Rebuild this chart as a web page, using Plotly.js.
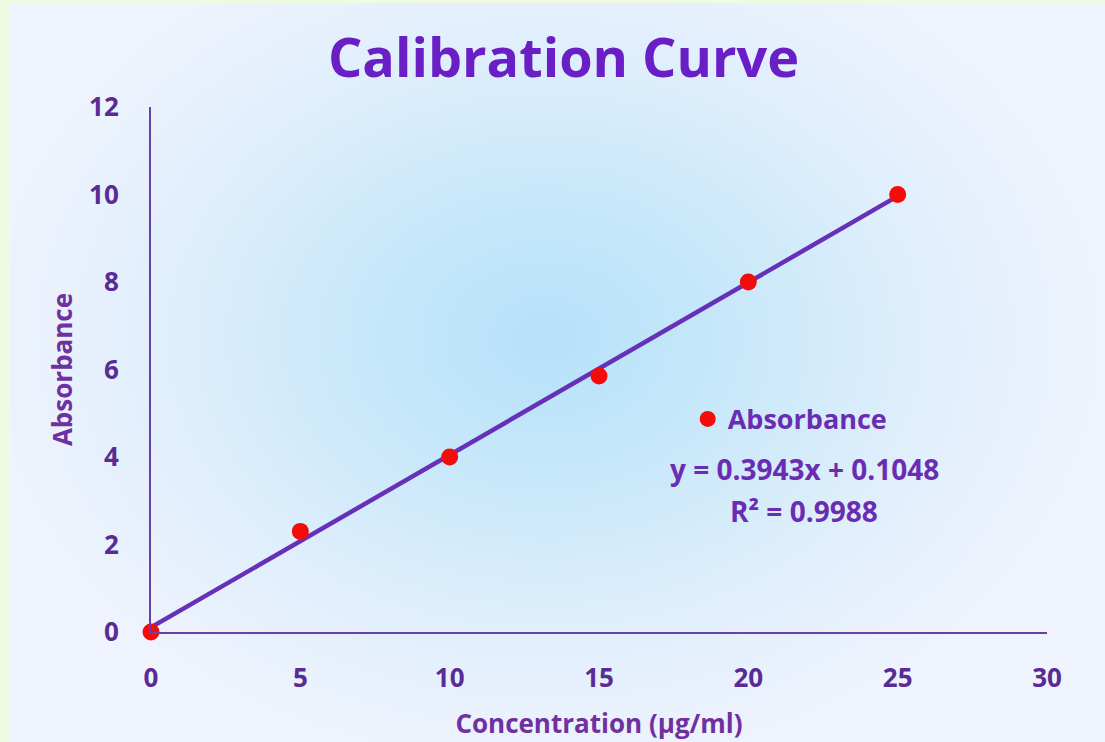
<!DOCTYPE html>
<html>
<head>
<meta charset="utf-8">
<script src="https://cdn.plot.ly/plotly-3.0.1.min.js"></script>
<style>
  html, body { margin:0; padding:0; width:1105px; height:742px; overflow:hidden; background:#eefbe1; }
  #panel { position:absolute; left:10px; top:3px; width:1095px; height:739px;
    background: radial-gradient(ellipse 560px 430px at 535px 335px, #b6e1f9 0%, #c9e8fa 35%, #e1effc 70%, #eef3fd 100%); }
  #chart { position:absolute; left:0; top:0; width:1105px; height:742px; }
</style>
</head>
<body>
<div id="panel"></div>
<div id="chart"></div>
<script>
// Data
const concentration = [0, 5, 10, 15, 20, 25];
const absorbance = [0, 2.3, 4.0, 5.85, 8.0, 10.0];
// Linear trendline (y = 0.3943x + 0.1048) endpoints
const trendX = [0, 25];
const trendY = [0.1048, 9.9623];
const xTicks = [0, 5, 10, 15, 20, 25, 30];
const yTicks = [0, 2, 4, 6, 8, 10, 12];
const equationText = "y = 0.3943x + 0.1048";
const r2Text = "R² = 0.9988";

const FONT = "'Open Sans', sans-serif";
const tickColor = "#5a2b94";
const axisColor = "#6a3fa6";
const textColor = "#6a2db2";

const traces = [
  { x: trendX, y: trendY, mode: "lines", type: "scatter", showlegend: false, cliponaxis: false,
    line: { color: "#6630b8", width: 4.5 }, hoverinfo: "skip" },
  { x: concentration, y: absorbance, mode: "markers", type: "scatter", name: "Absorbance",
    cliponaxis: false, marker: { color: "#f40c0c", size: 17 } }
];

const layout = {
  width: 1105, height: 742,
  paper_bgcolor: "rgba(0,0,0,0)", plot_bgcolor: "rgba(0,0,0,0)",
  margin: { l: 151, r: 58, t: 107, b: 110 },
  title: { text: "Calibration Curve", x: 0.51, xanchor: "center", y: 0.922, yanchor: "middle",
    font: { family: FONT, size: 54, color: "#6a1fc6", weight: 700 } },
  font: { family: FONT },
  xaxis: { range: [0, 30], tickvals: xTicks, showgrid: false, zeroline: false,
    showline: true, linecolor: axisColor, linewidth: 2, ticks: "", ticklabelstandoff: 22,
    tickfont: { family: FONT, size: 26, color: tickColor, weight: 700 },
    title: { text: "Concentration (µg/ml)", standoff: 21,
      font: { family: FONT, size: 26, color: "#7030a0", weight: 700 } } },
  yaxis: { range: [0, 12], tickvals: yTicks, showgrid: false, zeroline: false,
    showline: true, linecolor: axisColor, linewidth: 2, ticks: "", ticklabelstandoff: 25,
    tickfont: { family: FONT, size: 26, color: tickColor, weight: 700 },
    title: { text: "Absorbance", standoff: 9,
      font: { family: FONT, size: 26, color: "#7030a0", weight: 700 } } },
  showlegend: true,
  legend: { x: 0.599, y: 0.405, xanchor: "left", yanchor: "middle", bgcolor: "rgba(0,0,0,0)",
    font: { family: FONT, size: 27, color: textColor, weight: 700 } },
  annotations: [
    { xref: "x", yref: "y", x: 21.88, y: 3.72, text: equationText, showarrow: false,
      xanchor: "center", yanchor: "middle",
      font: { family: FONT, size: 28, color: textColor, weight: 700 } },
    { xref: "x", yref: "y", x: 21.88, y: 2.76, text: r2Text, showarrow: false,
      xanchor: "center", yanchor: "middle",
      font: { family: FONT, size: 28, color: textColor, weight: 700 } }
  ]
};

Plotly.newPlot("chart", traces, layout, { displayModeBar: false, staticPlot: true });
</script>
</body>
</html>
